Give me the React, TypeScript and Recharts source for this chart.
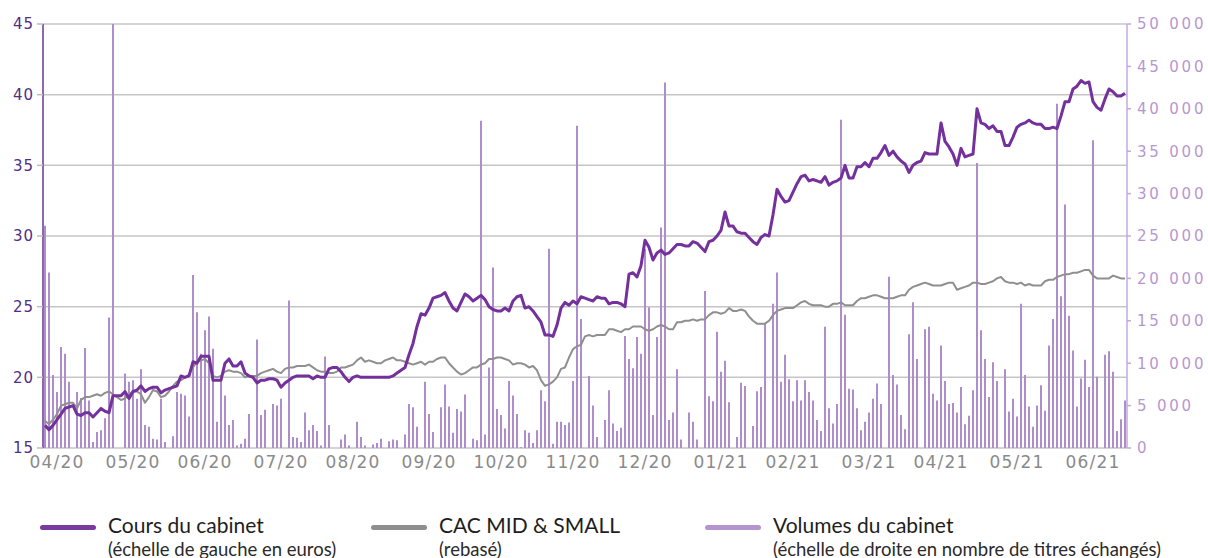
import * as React from 'react';
import { ComposedChart, Bar, Line, XAxis, YAxis, CartesianGrid } from 'recharts';

// Daily points, April 2020 -> June 2021
const price: number[] = [
  16.6, 16.3, 16.6, 17.0, 17.4, 17.8, 17.9, 18.0, 17.4, 17.3,
  17.5, 17.5, 17.2, 17.5, 17.8, 17.6, 17.5, 18.7, 18.7, 18.7,
  19.0, 18.5, 19.0, 19.1, 19.4, 19.0, 19.2, 19.3, 19.3, 18.9,
  19.1, 19.2, 19.3, 19.4, 20.1, 20.0, 20.1, 21.1, 21.0, 21.5,
  21.5, 21.5, 19.8, 19.8, 19.8, 21.0, 21.3, 20.8, 20.8, 21.1,
  20.3, 20.1, 20.0, 19.6, 19.8, 19.8, 19.9, 19.9, 19.8, 19.3,
  19.6, 19.8, 20.0, 20.1, 20.1, 20.1, 20.1, 19.9, 20.1, 20.0,
  20.0, 20.6, 20.7, 20.7, 20.4, 20.0, 19.7, 20.0, 20.1, 20.0,
  20.0, 20.0, 20.0, 20.0, 20.0, 20.0, 20.0, 20.1, 20.3, 20.5,
  20.7, 21.6, 22.4, 23.6, 24.5, 24.4, 24.9, 25.6, 25.7, 25.8,
  26.0, 25.4, 24.9, 24.7, 25.3, 25.9, 25.7, 25.4, 25.6, 25.8,
  25.5, 25.0, 24.8, 24.7, 24.7, 24.9, 24.7, 25.4, 25.7, 25.8,
  24.9, 25.0, 24.7, 24.3, 23.9, 23.0, 23.0, 22.9, 23.7, 24.9,
  25.3, 25.1, 25.4, 25.2, 25.7, 25.6, 25.5, 25.4, 25.7, 25.6,
  25.6, 25.2, 25.3, 25.3, 25.2, 25.0, 27.3, 27.4, 27.1, 27.9,
  29.7, 29.2, 28.3, 28.8, 29.0, 28.7, 28.8, 29.1, 29.4, 29.4,
  29.3, 29.3, 29.6, 29.5, 29.2, 28.9, 29.6, 29.7, 30.0, 30.4,
  31.7, 30.7, 30.7, 30.3, 30.2, 30.2, 29.9, 29.6, 29.4, 29.9,
  30.1, 30.0, 31.5, 33.3, 32.8, 32.4, 32.5, 33.1, 33.7, 34.2,
  34.3, 33.9, 34.0, 33.9, 33.8, 34.2, 33.6, 33.8, 33.9, 34.1,
  35.0, 34.1, 34.1, 34.9, 34.9, 35.2, 34.9, 35.5, 35.5, 35.9,
  36.4, 35.7, 36.0, 35.6, 35.3, 35.1, 34.5, 35.0, 35.2, 35.3,
  35.9, 35.8, 35.8, 35.8, 38.0, 36.7, 36.3, 35.8, 35.0, 36.2,
  35.6, 35.7, 35.8, 39.0, 38.0, 37.9, 37.6, 37.8, 37.4, 37.4,
  36.4, 36.4, 37.0, 37.7, 37.9, 38.0, 38.2, 38.0, 37.9, 37.9,
  37.6, 37.6, 37.7, 37.6, 38.5, 39.5, 39.5, 40.4, 40.6, 41.0,
  40.8, 40.9, 39.5, 39.1, 38.9, 39.7, 40.4, 40.2, 39.9, 39.9, 40.1,
];

const cacMidSmall: number[] = [
  16.9, 16.7, 17.0, 17.4, 18.0, 18.1, 18.2, 18.2, 17.8, 18.4,
  18.6, 18.6, 18.7, 18.8, 18.7, 18.9, 19.0, 18.8, 18.6, 18.4,
  18.5, 18.8, 19.0, 19.0, 18.8, 18.2, 18.6, 19.1, 19.0, 18.6,
  18.7, 19.0, 19.4, 19.7, 19.8, 20.0, 20.2, 20.7, 21.1, 21.2,
  21.3, 21.0, 20.1, 20.0, 20.1, 20.4, 20.5, 20.4, 20.4, 20.3,
  20.0, 20.1, 20.1, 20.1, 20.3, 20.4, 20.5, 20.6, 20.4, 20.3,
  20.6, 20.7, 20.7, 20.8, 20.8, 20.8, 20.9, 20.7, 20.5, 20.4,
  20.4, 20.3, 20.3, 20.4, 20.7, 20.7, 20.8, 20.9, 21.2, 21.4,
  21.1, 21.2, 21.1, 21.0, 21.0, 21.2, 21.3, 21.4, 21.2, 21.2,
  21.1, 21.0, 20.9, 21.0, 21.1, 20.9, 21.1, 21.1, 21.3, 21.4,
  21.4, 21.0, 20.7, 20.4, 20.2, 20.3, 20.5, 20.7, 20.7, 20.9,
  21.0, 21.3, 21.3, 21.4, 21.4, 21.3, 21.2, 20.9, 21.0, 21.0,
  20.9, 20.7, 20.8, 20.5, 19.8, 19.4, 19.5, 19.7, 20.0, 20.6,
  20.7, 21.4, 22.0, 22.2, 22.3, 22.9, 23.0, 22.9, 23.0, 23.0,
  23.0, 23.4, 23.4, 23.3, 23.2, 23.4, 23.4, 23.6, 23.6, 23.6,
  23.4, 23.3, 23.4, 23.6, 23.7, 23.6, 23.4, 23.4, 23.9, 23.9,
  24.0, 24.0, 24.1, 24.0, 24.1, 24.1, 24.4, 24.6, 24.6, 24.5,
  24.6, 24.9, 24.7, 24.7, 24.8, 24.7, 24.3, 24.0, 23.8, 23.8,
  23.8, 24.0, 24.4, 24.7, 24.8, 24.9, 24.9, 24.9, 25.1, 25.3,
  25.4, 25.2, 25.1, 25.1, 25.1, 25.0, 25.0, 25.2, 25.2, 25.3,
  25.1, 25.1, 25.1, 25.4, 25.6, 25.6, 25.7, 25.8, 25.8, 25.7,
  25.6, 25.6, 25.6, 25.7, 25.8, 25.8, 26.2, 26.4, 26.5, 26.6,
  26.7, 26.6, 26.5, 26.5, 26.5, 26.6, 26.7, 26.7, 26.2, 26.3,
  26.4, 26.5, 26.7, 26.7, 26.6, 26.6, 26.7, 26.8, 27.0, 27.1,
  26.8, 26.7, 26.7, 26.6, 26.7, 26.5, 26.6, 26.5, 26.5, 26.5,
  26.8, 26.9, 26.9, 27.1, 27.2, 27.3, 27.3, 27.4, 27.4, 27.5,
  27.6, 27.6, 27.2, 27.0, 27.0, 27.0, 27.0, 27.2, 27.1, 27.0, 27.0,
];

const volumes: number[] = [
  26200, 20700, 8600, 6600, 11900, 11100, 7800, 0, 6600, 5900,
  11800, 5600, 700, 1900, 2100, 3500, 15400, 50000, 0, 0,
  8800, 7800, 8000, 5800, 9300, 2700, 2500, 1100, 1000, 5800,
  700, 0, 1400, 6600, 6400, 6200, 3700, 20400, 16000, 11100,
  13900, 15500, 11700, 3100, 8000, 6200, 2700, 3300, 300, 500,
  1100, 4000, 0, 12800, 3900, 4500, 0, 5200, 5000, 5800,
  0, 17400, 1300, 1200, 700, 4200, 2100, 2700, 2000, 300,
  10800, 2700, 0, 0, 1000, 1600, 300, 0, 3100, 1300,
  300, 0, 400, 600, 1100, 0, 800, 1000, 900, 0,
  1600, 5200, 4800, 2500, 0, 7800, 4000, 1900, 0, 4800,
  7500, 4900, 1800, 4600, 4300, 6300, 0, 1100, 900, 38600,
  1600, 9500, 21300, 4600, 3900, 2300, 7900, 6200, 4000, 100,
  2100, 1800, 600, 2100, 6800, 5500, 23500, 500, 3100, 3100,
  2700, 3000, 7900, 38000, 15200, 0, 8500, 5000, 1300, 0,
  3300, 6800, 2900, 2000, 2400, 13200, 10500, 9400, 13100, 11100,
  23500, 16600, 3900, 13100, 26000, 43100, 3300, 4200, 9300, 1000,
  0, 4200, 3100, 1000, 0, 18500, 6100, 5500, 13700, 9000,
  10300, 5400, 0, 1300, 7700, 7300, 0, 2600, 6700, 7200,
  14700, 0, 17000, 20700, 7800, 11000, 8100, 5500, 8000, 5600,
  8000, 6600, 5600, 3300, 2000, 14300, 4700, 2900, 5200, 38700,
  15700, 7000, 6900, 4700, 2100, 3100, 4200, 5800, 7600, 5200,
  0, 20200, 8600, 7500, 3900, 2200, 13400, 17200, 10500, 0,
  14000, 14300, 6400, 5600, 12100, 7900, 5200, 5300, 4200, 7200,
  2800, 3800, 6800, 33600, 13900, 10500, 6000, 10100, 7900, 0,
  9300, 4300, 5800, 3700, 17000, 8600, 4900, 2500, 5000, 7400,
  4400, 12100, 15200, 40600, 17900, 28700, 15600, 11500, 4900, 8200,
  10400, 7200, 36300, 8400, 0, 11000, 11400, 9000, 2000, 3400, 5600,
];

const monthLabels = ['04/20', '05/20', '06/20', '07/20', '08/20', '09/20', '10/20', '11/20', '12/20', '01/21', '02/21', '03/21', '04/21', '05/21', '06/21'];
const monthTickIndex = [3, 22, 40, 59, 77, 96, 114, 132, 150, 169, 187, 206, 224, 243, 262];

const leftTicks = [15, 20, 25, 30, 35, 40, 45];
const rightTicks = [0, 5000, 10000, 15000, 20000, 25000, 30000, 35000, 40000, 45000, 50000];

const data = price.map((p, i) => ({ i, price: p, cac: cacMidSmall[i], vol: volumes[i] }));

const PURPLE = '#74309b';
const GREY = '#8f8f8f';
const LILAC = '#ad8dca';
const AXIS_FONT = '"DejaVu Sans", sans-serif';

const fmtThousands = (v: number) => (v >= 1000 ? `${Math.floor(v / 1000)} ${String(v % 1000).padStart(3, '0')}` : `${v}`);

const LegendItem: React.FC<{ color: string; left: number; title: string; sub: string }> = ({ color, left, title, sub }) => (
    <div style={{ position: 'absolute', left, top: 513, fontFamily: 'Lato, sans-serif' }}>
        <div style={{ position: 'absolute', left: 0, top: 12, width: 56, height: 5, borderRadius: 3, background: color }} />
        <div style={{ position: 'absolute', left: 68, top: 0, whiteSpace: 'nowrap', fontSize: 21, color: '#1e1e1e', lineHeight: '24px' }}>{title}</div>
        <div style={{ position: 'absolute', left: 68, top: 25, whiteSpace: 'nowrap', fontSize: 18.5, color: '#2a2a2a', lineHeight: '22px' }}>{sub}</div>
    </div>
);

const App: React.FC = () => {
    return (
        <div style={{ position: 'absolute', left: 0, top: 0, width: 1208, height: 558, background: '#fff' }}>
            <ComposedChart width={1208} height={558} data={data} margin={{ top: 24, right: 0, bottom: 80, left: 0 }}>
                <CartesianGrid yAxisId="left" vertical={false} stroke="#c6c6c6" strokeWidth={1.5} />
                <XAxis
                    dataKey="i"
                    type="category"
                    ticks={monthTickIndex}
                    interval={0}
                    tickFormatter={(v: number) => monthLabels[monthTickIndex.indexOf(v)] ?? ''}
                    axisLine={false}
                    tickLine={false}
                    tickSize={0}
                    tickMargin={8}
                    height={30}
                    tick={{ fill: '#8a8a8a', fontSize: 17, fontFamily: AXIS_FONT, letterSpacing: 1.2 }}
                />
                <YAxis
                    yAxisId="left"
                    orientation="left"
                    width={43}
                    domain={[15, 45]}
                    ticks={leftTicks}
                    interval={0}
                    axisLine={{ stroke: '#6a3596', strokeWidth: 1.5 }}
                    tickLine={{ stroke: '#bdbdbd', strokeWidth: 1.5 }}
                    tickSize={6}
                    tickMargin={3}
                    tick={{ fill: '#4f2f86', fontSize: 15, fontFamily: AXIS_FONT, letterSpacing: 1 }}
                />
                <YAxis
                    yAxisId="right"
                    orientation="right"
                    width={81}
                    domain={[0, 50000]}
                    ticks={rightTicks}
                    interval={0}
                    tickFormatter={fmtThousands}
                    axisLine={{ stroke: '#c4a8dc', strokeWidth: 1.5 }}
                    tickLine={{ stroke: '#c4a8dc', strokeWidth: 1.5 }}
                    tickSize={4}
                    tickMargin={6}
                    tick={{ fill: '#b797d2', fontSize: 15, fontFamily: AXIS_FONT, letterSpacing: 2.8 }}
                />
                <Bar yAxisId="right" dataKey="vol" fill={LILAC} barSize={2} isAnimationActive={false} />
                <Line yAxisId="left" dataKey="cac" stroke={GREY} strokeWidth={2} dot={false} activeDot={false} isAnimationActive={false} strokeLinejoin="round" />
                <Line yAxisId="left" dataKey="price" stroke={PURPLE} strokeWidth={3} dot={false} activeDot={false} isAnimationActive={false} strokeLinejoin="round" />
            </ComposedChart>
            <LegendItem color="#7a3b9f" left={40} title="Cours du cabinet" sub="(échelle de gauche en euros)" />
            <LegendItem color="#8e8e8e" left={371} title="CAC MID & SMALL" sub="(rebasé)" />
            <LegendItem color="#b495d0" left={705} title="Volumes du cabinet" sub="(échelle de droite en nombre de titres échangés)" />
        </div>
    );
};

export default App;
